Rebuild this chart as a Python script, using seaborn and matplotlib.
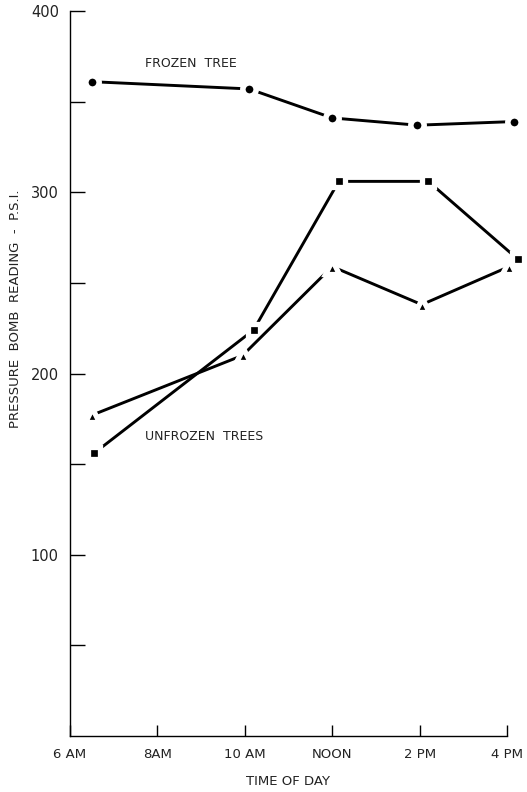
import matplotlib
matplotlib.use("Agg")
import matplotlib.pyplot as plt
import seaborn as sns
import pandas as pd

# Data (hour of day, 24h clock; pressure in psi)
frozen_hours = [6.5, 10.1, 12.0, 13.95, 16.15]
frozen_psi = [361, 357, 341, 337, 339]

square_hours = [6.55, 10.2, 12.15, 14.2, 16.25]
square_psi = [156, 224, 306, 306, 263]

triangle_hours = [6.5, 9.95, 12.0, 14.05, 16.05]
triangle_psi = [177, 210, 259, 238, 259]

xtick_values = [6, 8, 10, 12, 14, 16]
xtick_labels = ["6 AM", "8AM", "10 AM", "NOON", "2 PM", "4 PM"]
ytick_values = [50, 100, 150, 200, 250, 300, 350, 400]
ytick_labels = ["", "100", "", "200", "", "300", "", "400"]

sns.set_theme(style="white")
plt.rcParams["font.family"] = ["DejaVu Sans"]

fig = plt.figure(figsize=(5.27, 7.92), dpi=100)
ax = fig.add_axes([70 / 527, 56 / 792, 437 / 527, 725 / 792])

series = [
    (frozen_hours, frozen_psi, "o", 9.6, 4.0),
    (square_hours, square_psi, "s", 8.6, 3.8),
    (triangle_hours, triangle_psi, "^", 10.6, 3.8),
]
for hrs, vals, mk, ms, mew in series:
    df = pd.DataFrame({"hour": hrs, "psi": vals})
    sns.lineplot(data=df, x="hour", y="psi", ax=ax, color="black",
                 marker=mk, markersize=ms, markeredgecolor="white",
                 markeredgewidth=mew, linewidth=2.1, sort=False,
                 estimator=None, legend=False, clip_on=False)

ax.set_xlim(6, 16)
ax.set_ylim(0, 400)
ax.set_xticks(xtick_values)
ax.set_xticklabels(xtick_labels, fontsize=9.5)
ax.set_yticks(ytick_values)
ax.set_yticklabels(ytick_labels, fontsize=10.5)
ax.tick_params(axis="y", direction="in", length=11, width=1.0, color="black",
               pad=8, labelcolor="#222222", left=True)
ax.tick_params(axis="x", direction="in", length=8, width=1.0, color="black",
               pad=9, labelcolor="#222222", bottom=True)

for side in ["top", "right"]:
    ax.spines[side].set_visible(False)
for side in ["left", "bottom"]:
    ax.spines[side].set_color("black")
    ax.spines[side].set_linewidth(1.0)

ax.set_xlabel("TIME OF DAY", fontsize=9.5, color="#222222", labelpad=10)
ax.set_ylabel("PRESSURE  BOMB  READING  -  P.S.I.", fontsize=9.5, color="#222222")
ax.yaxis.set_label_coords(-0.11, 0.589)

ax.text(7.72, 371, "FROZEN  TREE", fontsize=9, color="#222222", va="center", ha="left")
ax.text(7.72, 165.5, "UNFROZEN  TREES", fontsize=9, color="#222222", va="center", ha="left")

fig.savefig("out.png", dpi=100, facecolor="white")
